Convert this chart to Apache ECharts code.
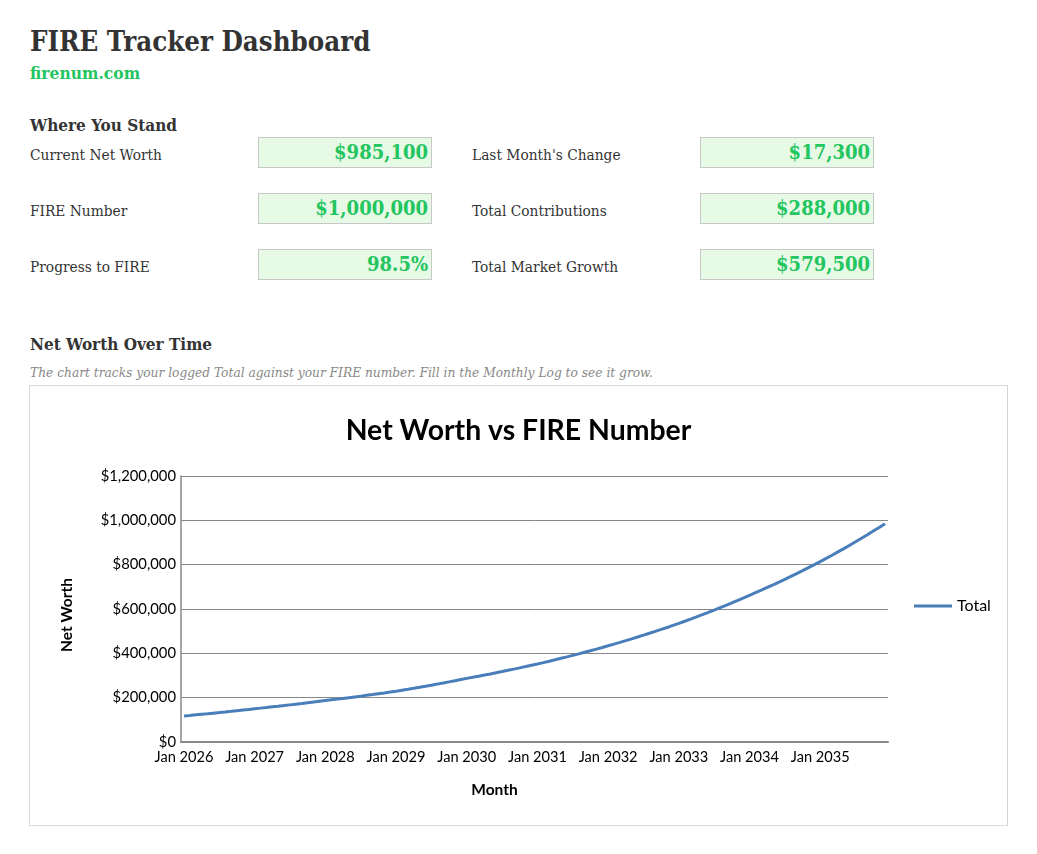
<!DOCTYPE html>
<html>
<head>
<meta charset="utf-8">
<script src="https://cdn.jsdelivr.net/npm/echarts@6/dist/echarts.min.js"></script>
<style>
  html, body { margin: 0; padding: 0; background: #ffffff; }
  body { width: 1037px; height: 854px; position: relative; overflow: hidden;
         font-family: "DejaVu Serif Condensed", "DejaVu Serif", serif; color: #333; }
  .abs { position: absolute; white-space: nowrap; }
  #title { left: 30px; top: 25px; font-size: 27.4px; font-weight: bold; color: #333; }
  #site { left: 30px; top: 63px; font-size: 17.3px; font-weight: bold; color: #22c55e; }
  .h2 { font-size: 17px; font-weight: bold; color: #333; }
  .lbl { font-size: 15.3px; color: #333; }
  .box { background: #e6fae6; border: 1px solid #c8c8c8; box-sizing: border-box;
         width: 174px; height: 31px; text-align: right; padding-right: 3px;
         font-size: 20px; font-weight: bold; color: #22c55e; line-height: 28px; }
  #note { left: 30px; top: 364px; font-size: 13.6px; font-style: italic; color: #888; }
  #chartBox { left: 29px; top: 385px; width: 979px; height: 441px; box-sizing: border-box;
              border: 1px solid #d9d9d9; border-right: 2px solid #d4d4d4; background: #fff; }
  #chart { position: absolute; left: 0; top: 0; width: 977px; height: 439px; }
</style>
</head>
<body>
<div id="title" class="abs">FIRE Tracker Dashboard</div>
<div id="site" class="abs">firenum.com</div>
<div class="abs h2" style="left:30px;top:115px;">Where You Stand</div>
<div id="kpis"></div>
<div class="abs h2" style="left:30px;top:334px;">Net Worth Over Time</div>
<div id="note" class="abs">The chart tracks your logged Total against your FIRE number. Fill in the Monthly Log to see it grow.</div>
<div id="chartBox" class="abs"><div id="chart"></div></div>
<script>
// ---- Dashboard figures ----
const kpiLabelsLeft  = ["Current Net Worth", "FIRE Number", "Progress to FIRE"];
const kpiValuesLeft  = ["$985,100", "$1,000,000", "98.5%"];
const kpiLabelsRight = ["Last Month's Change", "Total Contributions", "Total Market Growth"];
const kpiValuesRight = ["$17,300", "$288,000", "$579,500"];

// ---- Chart data ----
const chartTitle = "Net Worth vs FIRE Number";
const seriesName = "Total";
const years = [2026, 2027, 2028, 2029, 2030, 2031, 2032, 2033, 2034, 2035];
const monthNames = ["Jan","Feb","Mar","Apr","May","Jun","Jul","Aug","Sep","Oct","Nov","Dec"];
const yTicks = [0, 200000, 400000, 600000, 800000, 1000000, 1200000];
// Monthly Total, one row per year (Jan..Dec)
const total2026 = [117600,120000,122500,125000,127500,130200,132800,135500,138300,141200,144100,147000];
const total2027 = [150000,152800,155600,158500,161400,164400,167500,170600,173700,177000,180200,183600];
const total2028 = [187000,190200,193400,196700,200100,203500,206900,210500,214000,217700,221400,225200];
const total2029 = [229000,233400,237800,242300,246900,251600,256400,261200,266200,271300,276400,281700];
const total2030 = [287000,291900,296900,302000,307200,312500,317800,323300,328800,334500,340200,346100];
const total2031 = [352000,358200,364500,370900,377500,384100,390900,397700,404700,411900,419100,426500];
const total2032 = [434000,441600,449400,457300,465400,473500,481900,490400,499000,507800,516700,525800];
const total2033 = [535000,544600,554300,564300,574400,584600,595100,605800,616600,627700,638900,650300];
const total2034 = [662000,673500,685200,697100,709200,721600,734100,746900,759800,773000,786500,800100];
const total2035 = [814000,828200,842700,857500,872500,887700,903300,919100,935100,951500,967800,985100];

// ---- build KPI rows ----
const kpiHost = document.getElementById('kpis');
function addRow(label, value, i, lx, bx) {
  const top = 137 + i * 56;
  const l = document.createElement('div');
  l.className = 'abs lbl'; l.style.left = lx + 'px'; l.style.top = (top + 9) + 'px';
  l.textContent = label; kpiHost.appendChild(l);
  const b = document.createElement('div');
  b.className = 'abs box'; b.style.left = bx + 'px'; b.style.top = top + 'px';
  b.textContent = value; kpiHost.appendChild(b);
}
kpiLabelsLeft.forEach((t, i) => addRow(t, kpiValuesLeft[i], i, 30, 258));
kpiLabelsRight.forEach((t, i) => addRow(t, kpiValuesRight[i], i, 472, 700));

// ---- chart ----
const categories = [];
years.forEach(y => monthNames.forEach(m => categories.push(m + ' ' + y)));
const totals = [].concat(total2026, total2027, total2028, total2029, total2030,
                         total2031, total2032, total2033, total2034, total2035);

function money(v) { return '$' + v.toLocaleString('en-US'); }

const chart = echarts.init(document.getElementById('chart'), null, { renderer: 'canvas' });
const F = 'Lato, "Open Sans", sans-serif';
chart.setOption({
  animation: false,
  backgroundColor: '#ffffff',
  textStyle: { fontFamily: F },
  title: {
    text: chartTitle, left: 'center', top: 26,
    textStyle: { fontFamily: F, fontSize: 28.4, fontWeight: 'bold', color: '#000' }
  },
  legend: {
    data: [{ name: seriesName, icon: 'rect' }],
    left: 879, top: 207, itemWidth: 38, itemHeight: 3, itemGap: 6,
    textStyle: { fontFamily: F, fontSize: 16, color: '#000' }
  },
  grid: { left: 151, right: 119, top: 90, bottom: 83, containLabel: false },
  xAxis: {
    type: 'category', data: categories, boundaryGap: true,
    name: 'Month', nameLocation: 'middle', nameGap: 40,
    nameTextStyle: { fontFamily: F, fontSize: 15.5, fontWeight: 'bold', color: '#000', padding: [0, 80, 0, 0] },
    axisLine: { show: true, lineStyle: { color: '#888', width: 2 } },
    axisTick: { show: false },
    axisLabel: { interval: 11, margin: 8, fontFamily: F, fontSize: 14.6, color: '#000' },
    splitLine: { show: false }
  },
  yAxis: {
    type: 'value', min: yTicks[0], max: yTicks[yTicks.length - 1], interval: yTicks[1] - yTicks[0],
    name: 'Net Worth', nameLocation: 'middle', nameGap: 106, nameRotate: 90,
    nameTextStyle: { fontFamily: F, fontSize: 15.5, fontWeight: 'bold', color: '#000', padding: [0, 12, 0, 0] },
    axisLine: { show: true, lineStyle: { color: '#888', width: 1.5 } },
    axisTick: { show: false },
    axisLabel: { margin: 5, fontFamily: F, fontSize: 14.8, color: '#000', formatter: money },
    splitLine: { show: true, lineStyle: { color: '#888', width: 1 } }
  },
  series: [{
    name: seriesName, type: 'line', data: totals, showSymbol: false, symbol: 'none',
    smooth: false, lineStyle: { color: '#4a7ebb', width: 3 }, itemStyle: { color: '#4a7ebb' }
  }]
});
</script>
</body>
</html>
